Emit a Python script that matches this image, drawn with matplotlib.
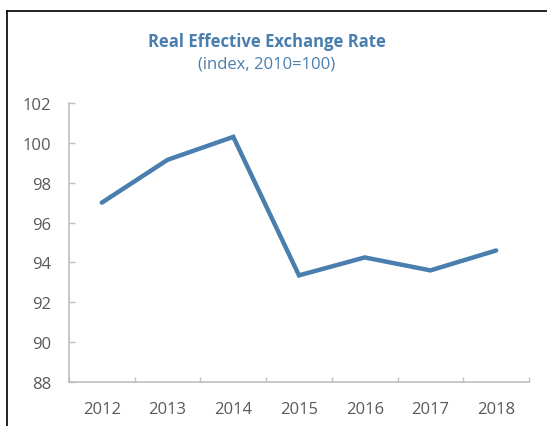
"""
Real effective exchange rate, index 2010=100
"""
import matplotlib
matplotlib.use("Agg")
import matplotlib.pyplot as plt
from matplotlib.lines import Line2D

years = ["2012", "2013", "2014", "2015", "2016", "2017", "2018"]
reer = [97.0, 99.15, 100.3, 93.35, 94.25, 93.6, 94.6]

blue = "#4a7eae"
grey_txt = "#595959"
axis_col = "#bfbfbf"

plt.rcParams["font.family"] = ["Open Sans", "DejaVu Sans"]

fig = plt.figure(figsize=(5.47, 4.27), dpi=100)
ax = fig.add_axes([69 / 547, 1 - 383 / 427, (529 - 69) / 547, (383 - 104) / 427])

xs = range(len(years))
ax.plot(xs, reer, color=blue, linewidth=3.2, solid_capstyle="round", solid_joinstyle="miter")

ax.set_xlim(-0.5, len(years) - 0.5)
ax.set_ylim(88, 102)
ax.set_yticks(range(88, 103, 2))
ax.set_xticks(xs)
ax.set_xticklabels(years)
# category boundaries carry the tick marks
ax.set_xticks([i + 0.5 for i in range(-1, len(years))], minor=True)

for s in ["top", "right"]:
    ax.spines[s].set_visible(False)
for s in ["left", "bottom"]:
    ax.spines[s].set_color(axis_col)
    ax.spines[s].set_linewidth(1.2)

ax.tick_params(axis="x", which="major", length=0, pad=14, labelsize=12, labelcolor=grey_txt)
ax.tick_params(axis="x", which="minor", direction="in", length=3.5, width=1, color=axis_col)
ax.tick_params(axis="y", direction="in", length=4, width=1, color=axis_col,
               pad=13, labelsize=12, labelcolor=grey_txt)

fig.text(267 / 547, 1 - 42 / 427, "Real Effective Exchange Rate", ha="center", va="center",
         fontsize=12, fontweight="bold", color=blue)
fig.text(267 / 547, 1 - 65 / 427, "(index, 2010=100)", ha="center", va="center",
         fontsize=12, color=blue)

# frame around the chart box (left and top edges visible)
fig.add_artist(Line2D([6.5 / 547, 6.5 / 547], [0, 1 - 11.5 / 427], color="black", linewidth=1.2))
fig.add_artist(Line2D([6.5 / 547, 1], [1 - 11.5 / 427, 1 - 11.5 / 427], color="black", linewidth=1.2))

fig.savefig("out.png", dpi=100)
